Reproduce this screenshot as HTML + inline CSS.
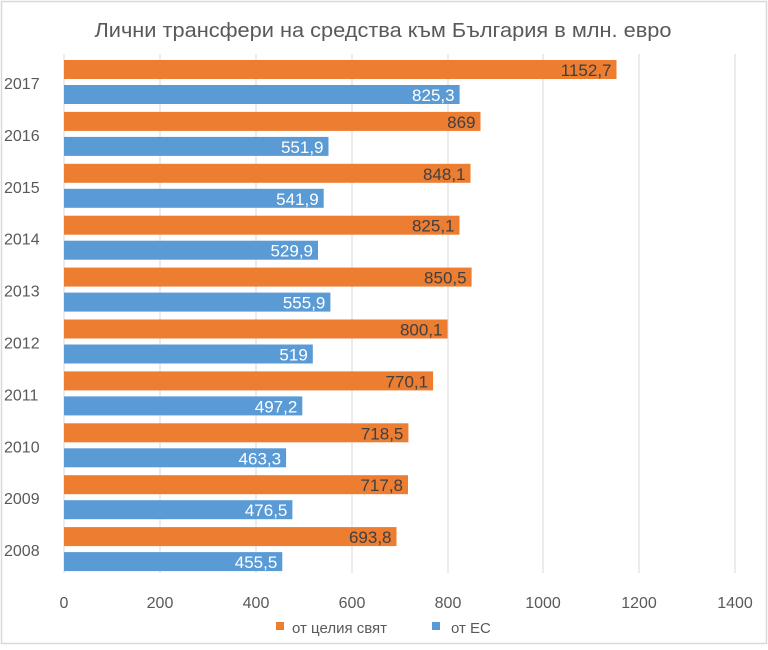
<!DOCTYPE html>
<html><head><meta charset="utf-8"><style>
html,body{margin:0;padding:0;background:#fff}
svg{display:block;font-family:"Liberation Sans",sans-serif}
</style></head><body>
<svg width="768" height="650" viewBox="0 0 768 650" xmlns="http://www.w3.org/2000/svg">
<rect x="1.5" y="1.5" width="765" height="642" fill="#fff" stroke="#d9d9d9" stroke-width="1.5"/>
<text x="383" y="37" text-anchor="middle" font-size="20" fill="#595959" textLength="577" lengthAdjust="spacingAndGlyphs">Лични трансфери на средства към България в млн. евро</text>
<g stroke="#d9d9d9" stroke-width="1">
<line x1="64" y1="54" x2="64" y2="573"/><line x1="160" y1="54" x2="160" y2="573"/><line x1="256" y1="54" x2="256" y2="573"/><line x1="352" y1="54" x2="352" y2="573"/><line x1="448" y1="54" x2="448" y2="573"/><line x1="543" y1="54" x2="543" y2="573"/><line x1="639" y1="54" x2="639" y2="573"/><line x1="735" y1="54" x2="735" y2="573"/>
</g>
<g font-size="16" fill="#595959" text-anchor="middle">
<text x="64" y="608">0</text><text x="160" y="608">200</text><text x="256" y="608">400</text><text x="352" y="608">600</text><text x="448" y="608">800</text><text x="543" y="608">1000</text><text x="639" y="608">1200</text><text x="735" y="608">1400</text>
</g>
<g fill="#ED7D31">
<rect x="64" y="60" width="552.5" height="19"/>
<rect x="64" y="111.9" width="416.5" height="19"/>
<rect x="64" y="163.8" width="406.5" height="19"/>
<rect x="64" y="215.7" width="395.5" height="19"/>
<rect x="64" y="267.6" width="407.6" height="19"/>
<rect x="64" y="319.5" width="383.5" height="19"/>
<rect x="64" y="371.4" width="369.1" height="19"/>
<rect x="64" y="423.3" width="344.4" height="19"/>
<rect x="64" y="475.2" width="344" height="19"/>
<rect x="64" y="527.1" width="332.5" height="19"/>
</g>
<g fill="#5B9BD5">
<rect x="64" y="85" width="395.6" height="19"/>
<rect x="64" y="136.9" width="264.5" height="19"/>
<rect x="64" y="188.8" width="259.7" height="19"/>
<rect x="64" y="240.7" width="254" height="19"/>
<rect x="64" y="292.6" width="266.4" height="19"/>
<rect x="64" y="344.5" width="248.8" height="19"/>
<rect x="64" y="396.4" width="238.3" height="19"/>
<rect x="64" y="448.3" width="222.1" height="19"/>
<rect x="64" y="500.2" width="228.4" height="19"/>
<rect x="64" y="552.1" width="218.3" height="19"/>
</g>
<g font-size="17" fill="#404040" text-anchor="end">
<text x="611.5" y="76">1152,7</text>
<text x="475.5" y="127.9">869</text>
<text x="465.5" y="179.8">848,1</text>
<text x="454.5" y="231.7">825,1</text>
<text x="466.6" y="283.6">850,5</text>
<text x="442.5" y="335.5">800,1</text>
<text x="428.1" y="387.4">770,1</text>
<text x="403.4" y="439.3">718,5</text>
<text x="403" y="491.2">717,8</text>
<text x="391.5" y="543.1">693,8</text>
</g>
<g font-size="17" fill="#fff" text-anchor="end">
<text x="454.6" y="101">825,3</text>
<text x="323.5" y="152.9">551,9</text>
<text x="318.7" y="204.8">541,9</text>
<text x="313" y="256.7">529,9</text>
<text x="325.4" y="308.6">555,9</text>
<text x="307.8" y="360.5">519</text>
<text x="297.3" y="412.4">497,2</text>
<text x="281.1" y="464.3">463,3</text>
<text x="287.4" y="516.2">476,5</text>
<text x="277.3" y="568.1">455,5</text>
</g>
<g font-size="16" fill="#595959">
<text x="4" y="89">2017</text>
<text x="4" y="140.9">2016</text>
<text x="4" y="192.8">2015</text>
<text x="4" y="244.7">2014</text>
<text x="4" y="296.6">2013</text>
<text x="4" y="348.5">2012</text>
<text x="4" y="400.4">2011</text>
<text x="4" y="452.3">2010</text>
<text x="4" y="504.2">2009</text>
<text x="4" y="556.1">2008</text>
</g>
<rect x="276" y="622" width="8" height="8" fill="#ED7D31"/>
<text x="292" y="633" font-size="15" fill="#595959">от целия свят</text>
<rect x="432" y="622" width="8" height="8" fill="#5B9BD5"/>
<text x="451" y="633" font-size="15" fill="#595959">от ЕС</text>
</svg>
</body></html>
